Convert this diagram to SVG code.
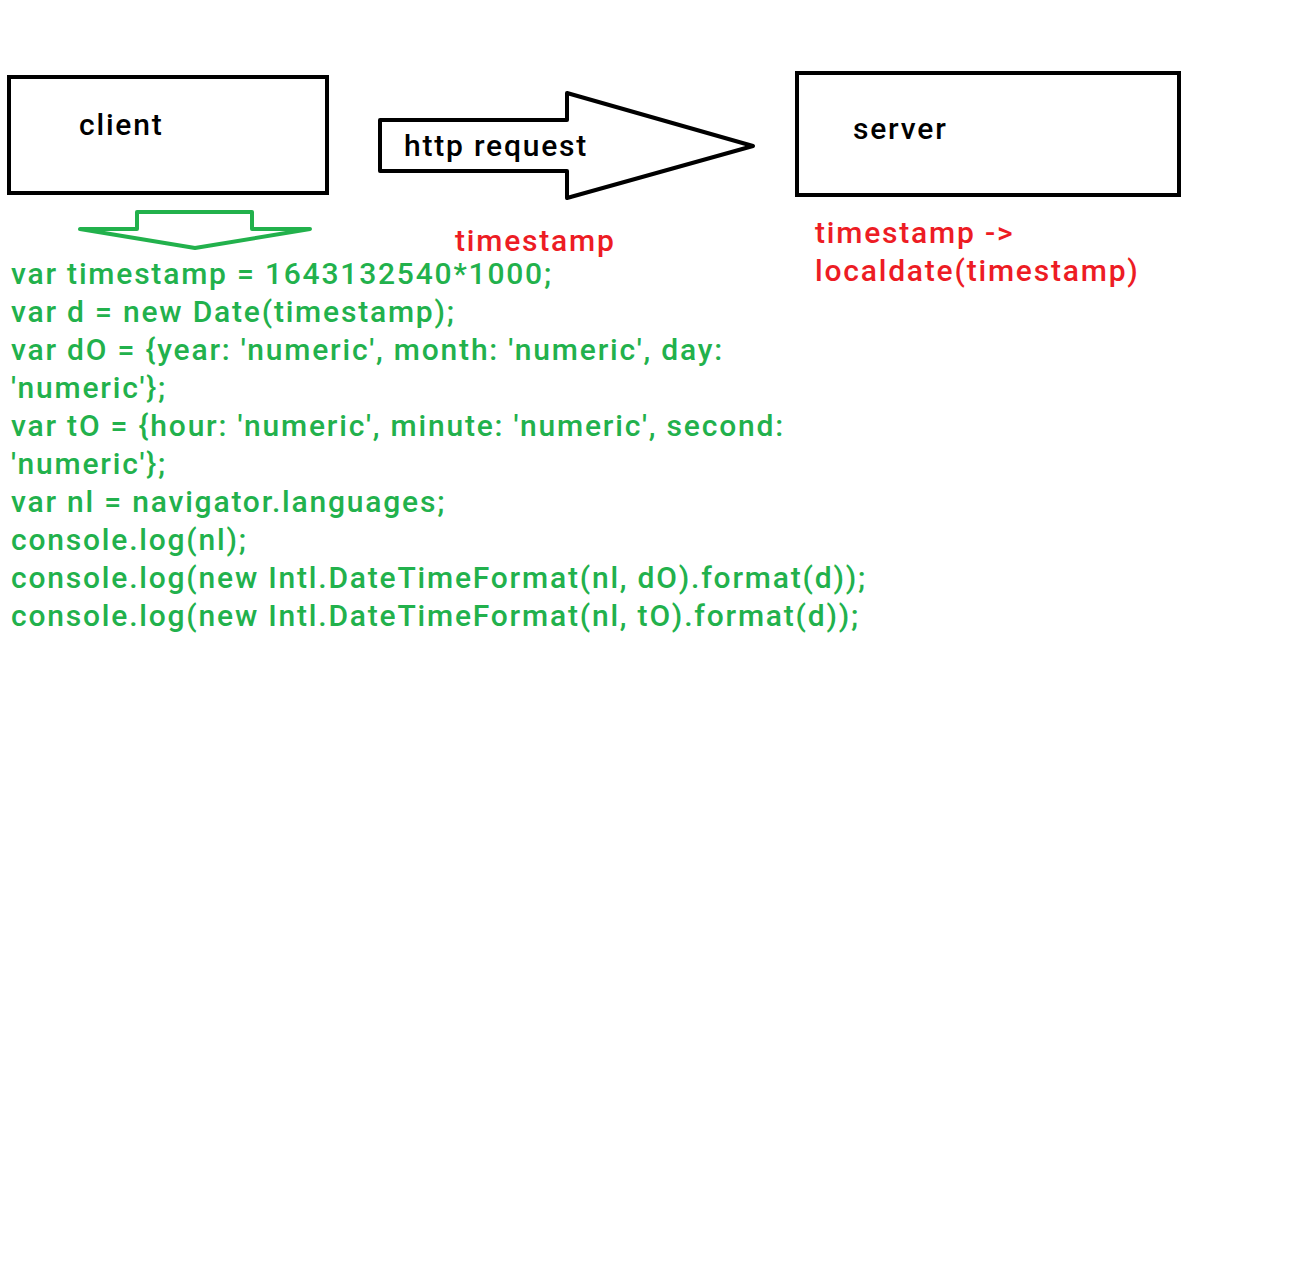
<svg xmlns="http://www.w3.org/2000/svg" width="1290" height="1267" viewBox="0 0 1290 1267">
  <style>
    text { font-family: Roboto, "Liberation Sans", sans-serif; font-size: 30px; font-weight: 500; letter-spacing: 1.8px; }
    .box { fill: none; stroke: #000; stroke-width: 4; }
    .label { fill: #000; }
    .note { fill: #ed1c24; }
    .code { fill: #22b14c; }
    .big-arrow { fill: none; stroke: #000; stroke-width: 4; stroke-linejoin: round; }
    .down-arrow { fill: none; stroke: #22b14c; stroke-width: 4; stroke-linejoin: round; stroke-linecap: round; }
  </style>
  <rect width="1290" height="1267" fill="#fff"/>

  <g id="client">
    <rect class="box" x="9" y="77" width="318" height="116"/>
    <text class="label" x="79" y="135">client</text>
  </g>

  <g id="server">
    <rect class="box" x="797" y="73" width="382" height="122"/>
    <text class="label" x="853" y="139">server</text>
    <text class="note" x="815" y="243">timestamp -&gt;</text>
    <text class="note" x="815" y="281">localdate(timestamp)</text>
  </g>

  <g id="connectors">
    <g id="http-request">
      <polygon class="big-arrow" points="380,120 567,120 567,93 753,146 567,198 567,171 380,171"/>
      <text class="label" x="404" y="156">http request</text>
      <text class="note" x="455" y="251">timestamp</text>
    </g>
    <g id="client-code-arrow">
      <polygon class="down-arrow" points="80,229 137,229 137,212 252,212 252,229 310,229 195,248"/>
    </g>
  </g>

  <g id="client-code">
    <text class="code" x="11" y="284">var timestamp = 1643132540*1000;</text>
    <text class="code" x="11" y="322">var d = new Date(timestamp);</text>
    <text class="code" x="11" y="360">var dO = {year: 'numeric', month: 'numeric', day:</text>
    <text class="code" x="11" y="398">'numeric'};</text>
    <text class="code" x="11" y="436">var tO = {hour: 'numeric', minute: 'numeric', second:</text>
    <text class="code" x="11" y="474">'numeric'};</text>
    <text class="code" x="11" y="512">var nl = navigator.languages;</text>
    <text class="code" x="11" y="550">console.log(nl);</text>
    <text class="code" x="11" y="588">console.log(new Intl.DateTimeFormat(nl, dO).format(d));</text>
    <text class="code" x="11" y="626">console.log(new Intl.DateTimeFormat(nl, tO).format(d));</text>
  </g>
</svg>
